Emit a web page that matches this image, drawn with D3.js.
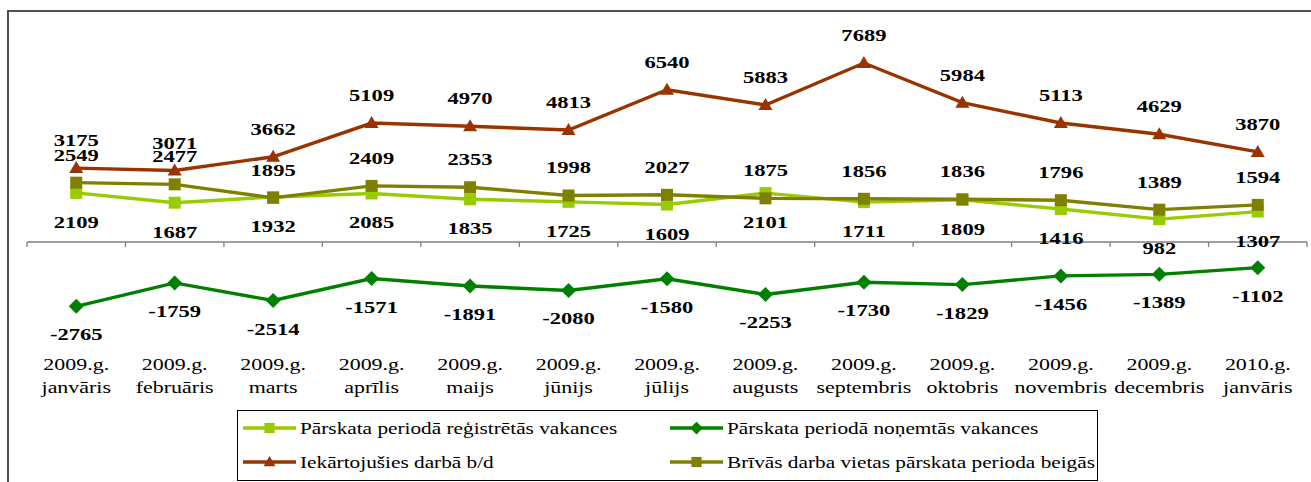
<!DOCTYPE html>
<html>
<head>
<meta charset="utf-8">
<script src="https://cdnjs.cloudflare.com/ajax/libs/d3/7.8.5/d3.min.js"></script>
<style>
  body { margin: 0; background: #fff; }
  svg { display: block; }
</style>
</head>
<body>
<script>
// data
var years = ['2009.g.', '2009.g.', '2009.g.', '2009.g.', '2009.g.', '2009.g.', '2009.g.',
    '2009.g.', '2009.g.', '2009.g.', '2009.g.', '2009.g.', '2010.g.'];
var months = ['janvāris', 'februāris', 'marts', 'aprīlis', 'maijs', 'jūnijs', 'jūlijs',
    'augusts', 'septembris', 'oktobris', 'novembris', 'decembris', 'janvāris'];

var registretas = [2109, 1687, 1932, 2085, 1835, 1725, 1609, 2101, 1711, 1809, 1416, 982, 1307];
var nonemtas = [-2765, -1759, -2514, -1571, -1891, -2080, -1580, -2253, -1730, -1829, -1456, -1389, -1102];
var iekartojusies = [3175, 3071, 3662, 5109, 4970, 4813, 6540, 5883, 7689, 5984, 5113, 4629, 3870];
var brivas = [2549, 2477, 1895, 2409, 2353, 1998, 2027, 1875, 1856, 1836, 1796, 1389, 1594];

var seriesNames = ['Pārskata periodā reģistrētās vakances', 'Pārskata periodā noņemtās vakances',
    'Iekārtojušies darbā b/d', 'Brīvās darba vietas pārskata perioda beigās'];

var svgWidth = 1311;
var svgHeight = 482;
var sx = 1.29; // text in the original is stretched sideways
var serif = "'Liberation Serif', 'Times New Roman', serif";

var svg = d3.select('body')
    .append('svg')
    .attr('width', svgWidth)
    .attr('height', svgHeight);

// frame
svg.append('rect')
    .attr('x', 8)
    .attr('y', 11)
    .attr('width', 1400)
    .attr('height', 600)
    .attr('fill', 'none')
    .attr('stroke', '#505050')
    .attr('stroke-width', 2);

var x = d3.scaleBand()
    .domain(d3.range(months.length))
    .range([27, 1307]);

var y = d3.scaleLinear()
    .domain([-4000, 8000])
    .range([242 + 4000 * 0.02328, 242 - 8000 * 0.02328]);

function cx(i) {
    return x(i) + x.bandwidth() / 2;
}

function stretched(sel, tx, ty) {
    return sel.attr('transform', function (d, i) {
        return 'translate(' + tx(d, i) + ',' + ty(d, i) + ') scale(' + sx + ',1)';
    })
        .style('font-family', serif);
}

// category axis
var axis = svg.append('g');
axis.append('line')
    .attr('x1', x.range()[0])
    .attr('x2', x.range()[1])
    .attr('y1', y(0))
    .attr('y2', y(0))
    .attr('stroke', '#808080')
    .attr('stroke-width', 1.3);

axis.selectAll('line.tick')
    .data(d3.range(months.length + 1))
    .enter()
    .append('line')
    .attr('class', 'tick')
    .attr('x1', function (d) { return x.range()[0] + d * x.step(); })
    .attr('x2', function (d) { return x.range()[0] + d * x.step(); })
    .attr('y1', y(0))
    .attr('y2', y(0) + 5)
    .attr('stroke', '#808080')
    .attr('stroke-width', 1.3);

stretched(axis.selectAll('text.year')
    .data(years)
    .enter()
    .append('text')
    .attr('class', 'year'), function (d, i) { return cx(i); }, function () { return 370; })
    .attr('text-anchor', 'middle')
    .attr('font-size', 17)
    .text(function (d) { return d; });

stretched(axis.selectAll('text.month')
    .data(months)
    .enter()
    .append('text')
    .attr('class', 'month'), function (d, i) { return cx(i); }, function () { return 393; })
    .attr('text-anchor', 'middle')
    .attr('font-size', 17)
    .text(function (d) { return d; });

// marker shapes
var squarePath = 'M-6,-6H6V6H-6Z';
var trianglePath = 'M0,-7L7,5H-7Z';
var diamondPath = 'M0,-7.5L7.5,0L0,7.5L-7.5,0Z';

var series = [
    {values: registretas, color: '#99CC00', marker: squarePath, dy: 35},
    {values: nonemtas, color: '#008000', marker: diamondPath, dy: 34},
    {values: iekartojusies, color: '#993300', marker: trianglePath, dy: -22},
    {values: brivas, color: '#808000', marker: squarePath, dy: -22}
];

var line = d3.line()
    .x(function (d, i) { return cx(i); })
    .y(function (d) { return y(d); });

series.forEach(function (s) {
    var g = svg.append('g');
    g.append('path')
        .datum(s.values)
        .attr('d', line)
        .attr('fill', 'none')
        .attr('stroke', s.color)
        .attr('stroke-width', 3.4);

    g.selectAll('path.marker')
        .data(s.values)
        .enter()
        .append('path')
        .attr('class', 'marker')
        .attr('d', s.marker)
        .attr('fill', s.color)
        .attr('transform', function (d, i) {
            return 'translate(' + cx(i) + ',' + y(d) + ')';
        });
});

// data labels on top of everything
series.forEach(function (s) {
    stretched(svg.append('g').selectAll('text')
        .data(s.values)
        .enter()
        .append('text'), function (d, i) { return cx(i); }, function (d) { return y(d) + s.dy; })
        .attr('text-anchor', 'middle')
        .attr('font-weight', 'bold')
        .attr('font-size', 17.5)
        .attr('fill', '#000')
        .text(function (d) { return d; });
});

// legend
var legend = svg.append('g');
legend.append('rect')
    .attr('x', 237.5)
    .attr('y', 410.5)
    .attr('width', 860)
    .attr('height', 70)
    .attr('fill', '#fff')
    .attr('stroke', '#000')
    .attr('stroke-width', 1);

var legendPos = [[243, 428], [670, 428], [243, 462], [670, 462]];

var items = legend.selectAll('g.item')
    .data(series)
    .enter()
    .append('g')
    .attr('class', 'item')
    .attr('transform', function (d, i) {
        return 'translate(' + legendPos[i][0] + ',' + legendPos[i][1] + ')';
    });

items.append('line')
    .attr('x1', 0)
    .attr('x2', 53)
    .attr('stroke', function (d) { return d.color; })
    .attr('stroke-width', 3.4);

items.append('path')
    .attr('d', function (d) { return d.marker; })
    .attr('fill', function (d) { return d.color; })
    .attr('transform', 'translate(26.5,0) scale(0.85)');

stretched(items.append('text'), function () { return 57; }, function () { return 6; })
    .attr('font-size', 16.5)
    .attr('fill', '#000')
    .text(function (d, i) { return seriesNames[i]; });
</script>
</body>
</html>
